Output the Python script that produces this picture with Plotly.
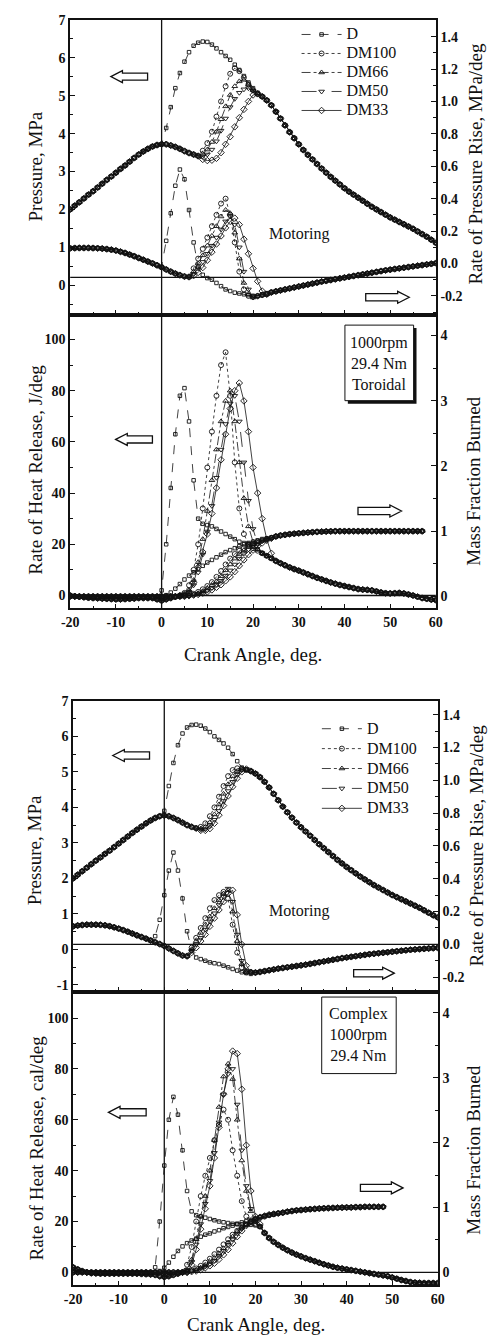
import plotly.graph_objects as go

# page is 498x1337; the HTML body adds an 8px margin, so the figure is drawn 8px in
PAGE_W, PAGE_H = 498, 1337
OFF = 8
W, H = PAGE_W - OFF, PAGE_H - OFF
SERIF = "Liberation Serif"
INK = "#111111"

SERIES = ["D", "DM100", "DM66", "DM50", "DM33"]
SYMBOLS = {"D": "square-open", "DM100": "circle-open", "DM66": "triangle-up-open",
           "DM50": "triangle-down-open", "DM33": "diamond-open"}
DASHES = {"D": "dash", "DM100": "dot", "DM66": "dashdot", "DM50": "longdash", "DM33": "solid"}
MSIZE = {"D": 3.5, "DM100": 5, "DM66": 5, "DM50": 5, "DM33": 5}

# ---------------- tick labels ----------------
x_tick_vals = [-20, -10, 0, 10, 20, 30, 40, 50, 60]
x_tick_text = ["-20", "-10", "0", "10", "20", "30", "40", "50", "60"]
p1_tick_vals = [0, 1, 2, 3, 4, 5, 6, 7]
p1_tick_text = ["0", "1", "2", "3", "4", "5", "6", "7"]
p2_tick_vals = [-1, 0, 1, 2, 3, 4, 5, 6, 7]
p2_tick_text = ["-1", "0", "1", "2", "3", "4", "5", "6", "7"]
r_tick_vals = [-0.2, 0.0, 0.2, 0.4, 0.6, 0.8, 1.0, 1.2, 1.4]
r_tick_text = ["-0.2", "0.0", "0.2", "0.4", "0.6", "0.8", "1.0", "1.2", "1.4"]
h_tick_vals = [0, 20, 40, 60, 80, 100]
h_tick_text = ["0", "20", "40", "60", "80", "100"]
m_tick_vals = [0, 1, 2, 3, 4]
m_tick_text = ["0", "1", "2", "3", "4"]

# =============== FIGURE 1 (Toroidal) ===============
# Pressure, MPa
f1_p_pre = [2.00, 2.10, 2.19, 2.29, 2.39, 2.48, 2.58, 2.68, 2.78, 2.87, 2.97, 3.07, 3.16,
            3.26, 3.36, 3.45, 3.53, 3.60, 3.66, 3.70, 3.72]                       # -20..0
f1_p_tdc = [3.72, 3.69, 3.65, 3.60, 3.54, 3.49, 3.45, 3.41]                        # 1..8
f1_p_tail = [4.98, 4.88, 4.75, 4.58, 4.40, 4.22, 4.04, 3.88, 3.72, 3.57, 3.44, 3.32, 3.20,
             3.08, 2.97, 2.86, 2.76, 2.66, 2.56, 2.47, 2.39, 2.31, 2.23, 2.15, 2.07, 2.00,
             1.93, 1.86, 1.79, 1.73, 1.67, 1.61, 1.55, 1.49, 1.42, 1.35, 1.28, 1.20, 1.12]  # 22..60
f1_p_D = [4.15, 4.70, 5.20, 5.60, 5.90, 6.15, 6.32, 6.40, 6.43, 6.42, 6.35, 6.25, 6.15, 6.05,
          5.95, 5.82, 5.68, 5.52, 5.35, 5.20, 5.08]                                # 1..21
f1_p_DM100 = [3.55, 3.75, 4.05, 4.45, 4.85, 5.25, 5.58, 5.73, 5.65, 5.48, 5.30, 5.15, 5.05]  # 9..21
f1_p_DM66 = [3.47, 3.58, 3.78, 4.05, 4.38, 4.72, 5.02, 5.25, 5.38, 5.42, 5.30, 5.15, 5.05]
f1_p_DM50 = [3.40, 3.45, 3.58, 3.80, 4.08, 4.40, 4.70, 4.92, 5.08, 5.17, 5.20, 5.13, 5.05]
f1_p_DM33 = [3.32, 3.29, 3.30, 3.35, 3.50, 3.72, 3.92, 4.18, 4.42, 4.64, 4.85, 5.02, 5.05]

# Rate of pressure rise, MPa/deg
f1_r_pre = [0.094, 0.095, 0.096, 0.096, 0.096, 0.095, 0.094, 0.092, 0.089, 0.085, 0.080,
            0.073, 0.065, 0.055, 0.045, 0.034, 0.023, 0.012, 0.001, -0.011, -0.024, -0.037,
            -0.050, -0.062, -0.072, -0.080, -0.083]                                # -20..6
f1_r_tail = [-0.178, -0.172, -0.166, -0.160, -0.154, -0.148, -0.142, -0.136, -0.130, -0.124,
             -0.118, -0.112, -0.107, -0.102, -0.097, -0.092, -0.087, -0.082, -0.077, -0.072,
             -0.067, -0.062, -0.057, -0.052, -0.047, -0.042, -0.038, -0.034, -0.030, -0.026,
             -0.022, -0.018, -0.014, -0.010, -0.006, -0.002, 0.002]                # 24..60
f1_r_D = [-0.02, 0.14, 0.31, 0.48, 0.58, 0.52, 0.33, 0.13, -0.02, -0.07, -0.09, -0.10, -0.12,
          -0.14, -0.16, -0.17, -0.18, -0.185, -0.19, -0.195, -0.20, -0.20, -0.19, -0.183]  # 0..23
f1_r_DM100 = [-0.03, 0.03, 0.09, 0.16, 0.23, 0.30, 0.37, 0.40, 0.30, 0.13, -0.05, -0.16, -0.20,
              -0.205, -0.20, -0.195, -0.19]                                         # 7..23
f1_r_DM66 = [-0.05, 0.00, 0.05, 0.11, 0.17, 0.23, 0.29, 0.33, 0.31, 0.19, 0.03, -0.12, -0.19,
             -0.21, -0.20, -0.195, -0.19]
f1_r_DM50 = [-0.065, -0.03, 0.01, 0.06, 0.11, 0.16, 0.21, 0.26, 0.29, 0.24, 0.10, -0.05, -0.16,
             -0.21, -0.205, -0.197, -0.19]
f1_r_DM33 = [-0.075, -0.055, -0.025, 0.02, 0.07, 0.12, 0.17, 0.22, 0.26, 0.28, 0.24, 0.15, 0.06,
             -0.03, -0.11, -0.17, -0.19]

# Rate of heat release, J/deg
f1_h_pre = [0.0, -0.3, -0.5, -0.7, -0.9, -1.0, -1.1, -1.2, -1.3, -1.4, -1.5, -1.5, -1.4, -1.3,
            -1.2, -1.0, -1.0, -1.0, -1.0, -1.5, -2.0, -1.5, -1.0, -0.5, 0.0]        # -20..4
f1_h_tail = [16.5, 15.5, 14.5, 13.5, 12.6, 11.8, 11.0, 10.3, 9.7, 9.0, 8.3, 7.6, 6.9, 6.3, 5.7,
             5.1, 4.6, 4.1, 3.7, 3.3, 2.9, 2.5, 2.3, 2.2, 2.0, 1.6, 1.2, 0.9, 0.8, 0.9, 1.0,
             0.8, 0.4, 0.0, -0.5, -1.0, -1.3, -1.6, -1.8]                           # 22..60
f1_h_D = [2, 20, 42, 63, 78, 81, 68, 45, 30, 28, 27.5, 27, 26, 25, 24, 23, 22, 21, 20.5, 20,
          19, 18]                                                                   # 0..21
f1_h_DM100 = [1, 4, 10, 20, 34, 50, 64, 78, 90, 95, 78, 52, 34, 24, 20, 18.5, 17.5]    # 5..21
f1_h_DM66 = [0.5, 2, 6, 13, 22, 33, 45, 57, 68, 76, 80, 68, 52, 38, 27, 21, 18]
f1_h_DM50 = [0.5, 1.5, 4, 9, 16, 25, 35, 46, 57, 67, 75, 78, 68, 52, 37, 26, 20]
f1_h_DM33 = [0.5, 1, 5, 11, 17, 24, 32, 42, 53, 63, 73, 80, 83, 76, 64, 50, 40, 30, 22, 16.5]  # 5..24

# Mass fraction burned
f1_m_pre = [0.0, 0.0, 0.0, 0.0, 0.0, 0.0, 0.0, 0.0, 0.0, 0.0, 0.0, 0.0, 0.0, 0.0, 0.0, 0.0,
            0.0, 0.0, 0.0, 0.0, 0.0, 0.0, 0.0, 0.0, 0.0]                            # -20..4
f1_m_tail = [0.92, 0.935, 0.945, 0.955, 0.962, 0.968, 0.974, 0.98, 0.985, 0.99, 0.993, 0.996,
             0.998, 1.0, 1.0, 1.0, 1.0, 1.0, 1.0, 1.0, 1.0, 1.0, 1.0, 1.0, 1.0, 1.0, 1.0, 1.0,
             1.0, 1.0, 1.0, 1.0, 1.0]                                               # 25..57
f1_m_D = [0.00, 0.02, 0.06, 0.12, 0.19, 0.26, 0.32, 0.37, 0.42, 0.47, 0.52, 0.56, 0.60, 0.64,
          0.68, 0.71, 0.74, 0.77, 0.80, 0.82, 0.84, 0.86, 0.88, 0.89, 0.90]          # 0..24
f1_m_DM100 = [0.01, 0.02, 0.04, 0.07, 0.11, 0.16, 0.22, 0.30, 0.39, 0.49, 0.58, 0.65, 0.70,
              0.74, 0.78, 0.81, 0.84, 0.86, 0.88, 0.90]                              # 5..24
f1_m_DM66 = [0.005, 0.015, 0.03, 0.05, 0.08, 0.12, 0.17, 0.23, 0.31, 0.40, 0.49, 0.58, 0.65,
             0.71, 0.76, 0.80, 0.83, 0.86, 0.88, 0.90]
f1_m_DM50 = [0.0, 0.01, 0.02, 0.04, 0.06, 0.09, 0.13, 0.18, 0.24, 0.32, 0.40, 0.49, 0.58, 0.66,
             0.72, 0.77, 0.81, 0.85, 0.87, 0.89]
f1_m_DM33 = [0.0, 0.01, 0.02, 0.03, 0.05, 0.07, 0.10, 0.14, 0.18, 0.24, 0.30, 0.38, 0.47, 0.56,
             0.64, 0.71, 0.77, 0.82, 0.86, 0.89]

# =============== FIGURE 2 (Complex) ===============
f2_p_pre = [2.00, 2.10, 2.20, 2.30, 2.40, 2.50, 2.59, 2.69, 2.78, 2.88, 2.98, 3.08, 3.18, 3.28,
            3.37, 3.46, 3.55, 3.63, 3.70, 3.75, 3.77]                               # -20..0
f2_p_tdc = [3.75, 3.70, 3.64, 3.57, 3.50, 3.45, 3.41]                              # 1..7
f2_p_tail = [5.02, 4.95, 4.85, 4.72, 4.56, 4.38, 4.20, 4.02, 3.86, 3.71, 3.57, 3.44, 3.32, 3.20,
             3.08, 2.96, 2.85, 2.74, 2.63, 2.52, 2.42, 2.32, 2.23, 2.14, 2.05, 1.97, 1.89,
             1.81, 1.74, 1.67, 1.60, 1.53, 1.47, 1.41, 1.35, 1.29, 1.23, 1.17, 1.10, 1.03,
             0.96, 0.90]                                                            # 19..60
f2_p_D = [3.90, 4.60, 5.25, 5.75, 6.08, 6.25, 6.32, 6.33, 6.30, 6.22, 6.12, 6.00, 5.90, 5.80,
          5.68, 5.50, 5.30, 5.12, 5.06]                                              # 0..18
f2_p_DM100 = [3.45, 3.55, 3.75, 4.00, 4.30, 4.60, 4.88, 5.05, 5.10, 5.08, 5.05]      # 8..18
f2_p_DM66 = [3.40, 3.45, 3.58, 3.80, 4.08, 4.38, 4.65, 4.88, 5.02, 5.08, 5.06]
f2_p_DM50 = [3.37, 3.38, 3.47, 3.65, 3.90, 4.18, 4.46, 4.72, 4.92, 5.05, 5.08]
f2_p_DM33 = [3.35, 3.35, 3.40, 3.55, 3.78, 4.05, 4.32, 4.58, 4.82, 5.00, 5.08]

f2_r_pre = [0.110, 0.115, 0.118, 0.120, 0.120, 0.120, 0.119, 0.116, 0.111, 0.104, 0.096, 0.087,
            0.077, 0.066, 0.055, 0.045, 0.035, 0.024, 0.013, 0.002, -0.010, -0.025, -0.040,
            -0.055, -0.068, -0.072]                                                 # -20..5
f2_r_tail = [-0.170, -0.172, -0.168, -0.163, -0.158, -0.153, -0.148, -0.144, -0.140, -0.136,
             -0.132, -0.128, -0.124, -0.119, -0.114, -0.109, -0.104, -0.099, -0.094, -0.089,
             -0.084, -0.080, -0.076, -0.072, -0.068, -0.064, -0.060, -0.057, -0.054, -0.051,
             -0.048, -0.045, -0.042, -0.039, -0.036, -0.033, -0.031, -0.029, -0.027, -0.025,
             -0.023, -0.021]                                                        # 19..60
f2_r_D = [0.05, 0.15, 0.30, 0.45, 0.56, 0.45, 0.28, 0.08, -0.04, -0.08, -0.09, -0.10, -0.11,
          -0.115, -0.12, -0.13, -0.14, -0.15, -0.16, -0.17, -0.175, -0.18]           # -2..19
f2_r_DM100 = [-0.02, 0.04, 0.10, 0.16, 0.22, 0.27, 0.30, 0.32, 0.28, 0.12, -0.05, -0.14, -0.17,
              -0.17, -0.172]                                                        # 6..20
f2_r_DM66 = [-0.03, 0.02, 0.07, 0.12, 0.17, 0.22, 0.27, 0.31, 0.33, 0.20, 0.02, -0.12, -0.17,
             -0.17, -0.172]
f2_r_DM50 = [-0.04, 0.00, 0.04, 0.09, 0.14, 0.19, 0.24, 0.29, 0.34, 0.26, 0.06, -0.10, -0.16,
             -0.17, -0.172]
f2_r_DM33 = [-0.05, -0.02, 0.02, 0.06, 0.11, 0.16, 0.21, 0.26, 0.31, 0.33, 0.18, 0.00, -0.13,
             -0.17, -0.172]

f2_h_pre = [2.0, 1.2, 0.5, 0.0, -0.3, -0.4, -0.5, -0.5, -0.5, -0.5, -0.5, -0.5, -0.5, -0.5,
            -0.5, -0.6, -0.7, -0.8, -1.0, -1.5, -1.8, -1.5, -1.0, -0.5, 0.0]         # -20..4
f2_h_tail = [18, 15.5, 13.5, 12, 10.8, 9.7, 8.7, 7.8, 7.0, 6.3, 5.6, 5.0, 4.4, 3.8, 3.2, 2.7,
             2.2, 1.8, 1.5, 1.2, 0.9, 0.6, 0.3, 0.0, -0.3, -0.6, -0.9, -1.2, -1.5, -2.0,
             -2.5, -3.0, -3.4, -3.8, -4.0, -4.1, -4.2, -4.2, -4.2, -4.2]             # 21..60
f2_h_D = [2, 20, 42, 60, 69, 62, 48, 32, 24, 22.5, 22, 21.5, 21, 20.5, 20, 19.7, 19.4, 19.1,
          18.9, 18.8, 18.8, 18.7, 18.5]                                              # -2..20
f2_h_DM100 = [3, 10, 20, 30, 38, 45, 52, 58, 64, 60, 48, 38, 28, 22, 20, 19, 18]      # 5..21
f2_h_DM66 = [1, 5, 13, 22, 30, 40, 52, 65, 77, 82, 76, 60, 44, 32, 24, 20, 18]
f2_h_DM50 = [1, 4, 11, 19, 27, 36, 47, 59, 70, 78, 80, 66, 48, 34, 25, 20, 18]
f2_h_DM33 = [0, 3, 9, 17, 25, 34, 45, 57, 70, 80, 87, 86, 72, 50, 32, 22, 19]

f2_m_pre = [0.0, 0.0, 0.0, 0.0, 0.0, 0.0, 0.0, 0.0, 0.0, 0.0, 0.0, 0.0, 0.0, 0.0, 0.0, 0.0,
            0.0, 0.0, 0.0, 0.0, 0.0, 0.0, 0.0, 0.0, 0.0]                            # -20..4
f2_m_tail = [0.91, 0.92, 0.935, 0.945, 0.955, 0.96, 0.967, 0.973, 0.978, 0.983, 0.987, 0.99,
             0.993, 0.996, 0.998, 1.0, 1.0, 1.005, 1.005, 1.01, 1.01, 1.01, 1.01, 1.01]   # 25..48
f2_m_D = [0.0, 0.02, 0.07, 0.15, 0.24, 0.33, 0.40, 0.45, 0.49, 0.52, 0.55, 0.58, 0.60, 0.63,
          0.65, 0.68, 0.70, 0.72, 0.75, 0.77, 0.79, 0.81, 0.83, 0.85, 0.87, 0.88, 0.89]   # -2..24
f2_m_DM100 = [0.01, 0.03, 0.06, 0.10, 0.15, 0.21, 0.28, 0.35, 0.43, 0.51, 0.58, 0.64, 0.69,
              0.74, 0.78, 0.81, 0.84, 0.86, 0.88, 0.90]                              # 5..24
f2_m_DM66 = [0.005, 0.02, 0.04, 0.07, 0.11, 0.16, 0.22, 0.29, 0.37, 0.46, 0.55, 0.63, 0.69,
             0.74, 0.78, 0.82, 0.85, 0.87, 0.89, 0.90]
f2_m_DM50 = [0.0, 0.015, 0.03, 0.06, 0.09, 0.13, 0.18, 0.25, 0.33, 0.42, 0.51, 0.60, 0.67,
             0.73, 0.78, 0.82, 0.85, 0.87, 0.89, 0.90]
f2_m_DM33 = [0.0, 0.01, 0.02, 0.04, 0.07, 0.10, 0.14, 0.20, 0.27, 0.35, 0.45, 0.55, 0.64,
             0.72, 0.78, 0.82, 0.85, 0.87, 0.89, 0.90]


def build(segments):
    d = {}
    for start, vals in segments:
        for i, v in enumerate(vals):
            d[start + i] = v
    xs = sorted(d)
    return xs, [d[k] for k in xs]


def segs(pre, tail, tail_start, specific, tdc=None, tdc_start=1):
    out = {}
    for name in SERIES:
        s = [(-20, pre), (tail_start, tail)]
        start, vals = specific[name]
        if tdc is not None and name != "D":
            s.append((tdc_start, tdc))
        s.append((start, vals))
        out[name] = s
    return out


F1 = {
    "p": segs(f1_p_pre, f1_p_tail, 22,
              {"D": (1, f1_p_D), "DM100": (9, f1_p_DM100), "DM66": (9, f1_p_DM66),
               "DM50": (9, f1_p_DM50), "DM33": (9, f1_p_DM33)}, tdc=f1_p_tdc),
    "r": segs(f1_r_pre, f1_r_tail, 24,
              {"D": (0, f1_r_D), "DM100": (7, f1_r_DM100), "DM66": (7, f1_r_DM66),
               "DM50": (7, f1_r_DM50), "DM33": (7, f1_r_DM33)}),
    "h": segs(f1_h_pre, f1_h_tail, 22,
              {"D": (0, f1_h_D), "DM100": (5, f1_h_DM100), "DM66": (5, f1_h_DM66),
               "DM50": (5, f1_h_DM50), "DM33": (5, f1_h_DM33)}),
    "m": segs(f1_m_pre, f1_m_tail, 25,
              {"D": (0, f1_m_D), "DM100": (5, f1_m_DM100), "DM66": (5, f1_m_DM66),
               "DM50": (5, f1_m_DM50), "DM33": (5, f1_m_DM33)}),
}
F2 = {
    "p": segs(f2_p_pre, f2_p_tail, 19,
              {"D": (0, f2_p_D), "DM100": (8, f2_p_DM100), "DM66": (8, f2_p_DM66),
               "DM50": (8, f2_p_DM50), "DM33": (8, f2_p_DM33)}, tdc=f2_p_tdc),
    "r": segs(f2_r_pre, f2_r_tail, 19,
              {"D": (-2, f2_r_D), "DM100": (6, f2_r_DM100), "DM66": (6, f2_r_DM66),
               "DM50": (6, f2_r_DM50), "DM33": (6, f2_r_DM33)}),
    "h": segs(f2_h_pre, f2_h_tail, 21,
              {"D": (-2, f2_h_D), "DM100": (5, f2_h_DM100), "DM66": (5, f2_h_DM66),
               "DM50": (5, f2_h_DM50), "DM33": (5, f2_h_DM33)}),
    "m": segs(f2_m_pre, f2_m_tail, 25,
              {"D": (-2, f2_m_D), "DM100": (5, f2_m_DM100), "DM66": (5, f2_m_DM66),
               "DM50": (5, f2_m_DM50), "DM33": (5, f2_m_DM33)}),
}

fig = go.Figure()


def add_quantity(seg_map, xa, ya, legend, showlegend):
    for name in SERIES:
        xs, ys = build(seg_map[name])
        fig.add_trace(go.Scatter(
            x=xs, y=ys, xaxis=xa, yaxis=ya, mode="lines+markers",
            name=f"<span style='font-size:16px'>{name}</span>",
            line=dict(color=INK, width=0.8, dash=DASHES[name]),
            marker=dict(symbol=SYMBOLS[name], size=MSIZE[name], color=INK,
                        line=dict(width=0.9, color=INK)),
            showlegend=showlegend, legend=legend))


add_quantity(F1["p"], "x", "y", "legend", True)
add_quantity(F1["r"], "x", "y2", "legend", False)
add_quantity(F1["h"], "x2", "y3", "legend", False)
add_quantity(F1["m"], "x2", "y4", "legend", False)
add_quantity(F2["p"], "x3", "y5", "legend2", True)
add_quantity(F2["r"], "x3", "y6", "legend2", False)
add_quantity(F2["h"], "x4", "y7", "legend2", False)
add_quantity(F2["m"], "x4", "y8", "legend2", False)


def px(x):
    return (x - OFF) / W


def py(y):
    return 1 - (y - OFF) / H


tickfont = dict(family=SERIF, size=14, color=INK, weight="bold")


def xax(dom, anchor, labels, match=None):
    d = dict(domain=[px(dom[0]), px(dom[1])], anchor=anchor, range=[-20, 60],
             tickmode="array", tickvals=x_tick_vals, ticktext=x_tick_text,
             showticklabels=labels, ticks="inside", ticklen=5, tickwidth=1.2, tickcolor=INK,
             minor=dict(ticks="inside", ticklen=3, tickmode="linear", tick0=-20, dtick=5,
                        tickcolor=INK, showgrid=False),
             showline=True, linewidth=1.6, linecolor=INK, mirror=True,
             showgrid=False, zeroline=False, tickfont=tickfont)
    if match:
        d["matches"] = match
    return d


def yax(dom, anchor, rng, tv, tt, mdt, side="left", overlay=None):
    d = dict(anchor=anchor, range=rng, tickmode="array", tickvals=tv, ticktext=tt,
             ticks="inside", ticklen=5, tickwidth=1.2, tickcolor=INK,
             minor=dict(ticks="inside", ticklen=3, tickmode="linear", tick0=0, dtick=mdt,
                        tickcolor=INK, showgrid=False),
             showline=True, linewidth=1.6, linecolor=INK, side=side,
             showgrid=False, zeroline=False, tickfont=tickfont)
    if overlay:
        d["overlaying"] = overlay
    else:
        d["domain"] = [py(dom[1]), py(dom[0])]
    return d


fig.update_layout(
    width=W, height=H, margin=dict(l=0, r=0, t=0, b=0),
    paper_bgcolor="white", plot_bgcolor="white",
    xaxis=xax((63, 441), "y", False),
    xaxis2=xax((63, 441), "y3", True, "x"),
    xaxis3=xax((66, 443), "y5", False),
    xaxis4=xax((66, 443), "y7", True, "x3"),
    yaxis=yax((13, 310), "x", [-0.79, 7.0], p1_tick_vals, p1_tick_text, 0.5),
    yaxis2=yax(None, "x", [-0.319, 1.503], r_tick_vals, r_tick_text, 0.1, "right", "y"),
    yaxis3=yax((310, 605), "x2", [-5.05, 109.5], h_tick_vals, h_tick_text, 10),
    yaxis4=yax(None, "x2", [-0.183, 4.31], m_tick_vals, m_tick_text, 0.5, "right", "y3"),
    yaxis5=yax((698, 991), "x3", [-1.204, 7.0], p2_tick_vals, p2_tick_text, 0.5),
    yaxis6=yax(None, "x3", [-0.291, 1.485], r_tick_vals, r_tick_text, 0.1, "right", "y5"),
    yaxis7=yax((991, 1286), "x4", [-5.08, 110.2], h_tick_vals, h_tick_text, 10),
    yaxis8=yax(None, "x4", [-0.2, 4.32], m_tick_vals, m_tick_text, 0.5, "right", "y7"),
    legend=dict(x=px(297), y=py(13), xanchor="left", yanchor="top", itemwidth=40,
                font=dict(family=SERIF, size=12, color=INK), bgcolor="rgba(0,0,0,0)",
                tracegroupgap=0),
    legend2=dict(x=px(318), y=py(711), xanchor="left", yanchor="top", itemwidth=40,
                 font=dict(family=SERIF, size=13, color=INK), bgcolor="rgba(0,0,0,0)",
                 tracegroupgap=0),
    showlegend=True,
)

shapes = []
# vertical TDC lines across both panels of each figure
shapes.append(dict(type="line", xref="x", yref="paper", x0=0, x1=0, y0=py(605), y1=py(13),
                   line=dict(color=INK, width=1.3)))
shapes.append(dict(type="line", xref="x3", yref="paper", x0=0, x1=0, y0=py(1286), y1=py(698),
                   line=dict(color=INK, width=1.3)))
# horizontal reference lines
shapes.append(dict(type="line", xref="paper", yref="y2", x0=px(63), x1=px(441), y0=-0.086, y1=-0.086,
                   line=dict(color=INK, width=1.3)))
shapes.append(dict(type="line", xref="paper", yref="y3", x0=px(63), x1=px(441), y0=0, y1=0,
                   line=dict(color=INK, width=1.3)))
shapes.append(dict(type="line", xref="paper", yref="y6", x0=px(66), x1=px(443), y0=0, y1=0,
                   line=dict(color=INK, width=1.3)))
shapes.append(dict(type="line", xref="paper", yref="y7", x0=px(66), x1=px(443), y0=0, y1=0,
                   line=dict(color=INK, width=1.3)))


def arrow(cx, cy, w, h, direction):
    hl = 12
    bh = h * 0.3
    s = -1 if direction == "left" else 1
    tip = cx + s * w / 2
    back = cx - s * w / 2
    neck = tip - s * hl
    pts = [(tip, cy), (neck, cy - h / 2), (neck, cy - bh), (back, cy - bh),
           (back, cy + bh), (neck, cy + bh), (neck, cy + h / 2)]
    path = "M " + " L ".join(f"{px(a):.5f},{py(b):.5f}" for a, b in pts) + " Z"
    return dict(type="path", xref="paper", yref="paper", path=path, fillcolor="white",
                line=dict(color=INK, width=1.3))


shapes += [arrow(124, 70, 38, 12, "left"), arrow(391, 292, 45, 12, "right"),
           arrow(129, 435, 38, 12, "left"), arrow(383, 507, 45, 12, "right"),
           arrow(126, 753, 38, 12, "left"), arrow(377, 972, 42, 12, "right"),
           arrow(122, 1112, 39, 12, "left"), arrow(385, 1188, 44, 12, "right")]

# info boxes
shapes.append(dict(type="rect", xref="paper", yref="paper", x0=px(350), x1=px(421),
                   y0=py(399), y1=py(323), fillcolor=INK, line=dict(width=0)))
shapes.append(dict(type="rect", xref="paper", yref="paper", x0=px(347), x1=px(418),
                   y0=py(396), y1=py(320), fillcolor="white", line=dict(color=INK, width=1)))
shapes.append(dict(type="rect", xref="paper", yref="paper", x0=px(323), x1=px(400),
                   y0=py(1073), y1=py(996), fillcolor="white", line=dict(color=INK, width=1)))
fig.update_layout(shapes=shapes)

ann = []


def text(x, y, s, size, angle=0):
    ann.append(dict(x=px(x), y=py(y), xref="paper", yref="paper", text=s, showarrow=False,
                    textangle=angle, xanchor="center", yanchor="middle",
                    font=dict(family=SERIF, size=size, color=INK)))


text(27, 160, "Pressure, MPa", 19, -90)
text(482, 158, "Rate of Pressure Rise, MPa/deg", 19, -90)
text(27, 465, "Rate of Heat Release, J/deg", 19, -90)
text(480, 477, "Mass Fraction Burned", 19, -90)
text(252, 651, "Crank Angle, deg.", 19)
text(300, 228, "Motoring", 16)
text(382, 359, "1000rpm<br>29.4 Nm<br>Toroidal", 16)

text(27, 848, "Pressure, MPa", 19, -90)
text(483, 843, "Rate of Pressure Rise, MPa/deg", 19, -90)
text(28, 1148, "Rate of Heat Release, cal/deg", 19, -90)
text(480, 1150, "Mass Fraction Burned", 19, -90)
text(255, 1325, "Crank Angle, deg.", 19)
text(300, 909, "Motoring", 16)
text(361, 1034, "Complex<br>1000rpm<br>29.4 Nm", 16)

fig.update_layout(annotations=ann)

fig.write_html("out.html")
